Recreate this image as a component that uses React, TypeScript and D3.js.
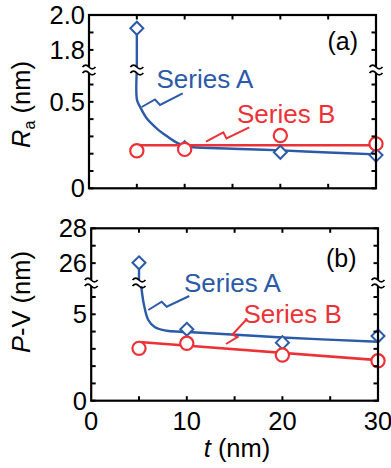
import React from "react";
import * as d3 from "d3";

// ---------- data ----------
const tValues = [5, 10, 20, 30];
const raSeriesA = [1.924, 0.235, 0.208, 0.192];
const raSeriesB = [0.217, 0.225, 0.305, 0.257];
const pvSeriesA = [26.02, 4.13, 3.36, 3.74];
const pvSeriesB = [3.03, 3.32, 2.64, 2.31];

// fitted curves
const raFitAT = [5, 5.02, 5.33, 6.03, 7.07, 8.12, 9.16, 10.03, 10.9, 15, 20, 25, 30];
const raFitAV = [0.684, 0.51, 0.472, 0.405, 0.347, 0.302, 0.264, 0.245, 0.237, 0.229, 0.219, 0.207, 0.196];
const raFitBT = [5, 30];
const raFitBV = [0.249, 0.249];
const pvFitAT = [5.2, 5.5, 5.97, 6.67, 7.89, 9.28, 11, 20, 30];
const pvFitAV = [6.81, 5.6, 4.67, 4.25, 4.05, 3.99, 3.95, 3.66, 3.41];
const pvFitBT = [5, 30];
const pvFitBV = [3.4, 2.35];

const xDomain = [0, 30];
const xTicks = [0, 5, 10, 15, 20, 25, 30];
const xTickLabels = [0, 10, 20, 30];

const raLowerDomain = [0, 0.684];
const raUpperDomain = [1.685, 2.0];
const raLowerTicks = [0, 0.1, 0.2, 0.3, 0.4, 0.5, 0.6];
const raUpperTicks = [1.8, 1.9, 2.0];
const raLowerLabels = [0, 0.5];
const raUpperLabels = [1.8, 2.0];

const pvLowerDomain = [0, 6.81];
const pvUpperDomain = [24.86, 28];
const pvLowerTicks = [0, 1, 2, 3, 4, 5, 6];
const pvUpperTicks = [26, 27, 28];
const pvLowerLabels = [0, 5];
const pvUpperLabels = [26, 28];

const seriesNames = ["Series A", "Series B"];

// ---------- style ----------
const BLUE = "#2b5aa8";
const RED = "#ec3237";
const FONT = "'Liberation Sans', Arial, Helvetica, sans-serif";
const FS = 25.5;

type Pt = [number, number];

interface PanelProps {
  left: number; right: number; top: number; bottom: number; breakY: number;
  lowerDomain: number[]; upperDomain: number[];
  lowerTicks: number[]; upperTicks: number[];
  lowerLabels: number[]; upperLabels: number[];
  fmt: (v: number) => string;
  seriesA: number[]; seriesB: number[];
  fitAT: number[]; fitAV: number[]; fitBT: number[]; fitBV: number[];
  labelA: [number, number]; labelB: [number, number];
  leaderA: Pt[]; leaderB: Pt[];
  tag: string; tagPos: [number, number];
  showXLabels: boolean;
  labelEnd: number;
}

function BreakMark({ x, y, color = "#000" }: { x: number; y: number; color?: string }) {
  const d = (yy: number) => `M${x - 6.5},${yy} Q${x - 3.25},${yy - 3.6} ${x},${yy} T${x + 6.5},${yy}`;
  return (
    <g>
      <rect x={x - 7} y={y - 3} width={14} height={6} fill="#fff" />
      <path d={d(y - 3)} fill="none" stroke={color} strokeWidth={1.8} />
      <path d={d(y + 3)} fill="none" stroke={color} strokeWidth={1.8} />
    </g>
  );
}

function Panel(p: PanelProps) {
  const x = d3.scaleLinear().domain(xDomain).range([p.left, p.right]);
  const yL = d3.scaleLinear().domain(p.lowerDomain).range([p.bottom, p.breakY]);
  const yU = d3.scaleLinear().domain(p.upperDomain).range([p.breakY, p.top]);
  const yAny = (v: number) => (v > p.lowerDomain[1] ? yU(v) : yL(v));

  const curve = d3.line<Pt>().x((d) => x(d[0])).y((d) => yL(d[1])).curve(d3.curveCatmullRom.alpha(0.5));
  const straight = d3.line<Pt>().x((d) => x(d[0])).y((d) => yL(d[1]));
  const fitA: Pt[] = p.fitAT.map((t, i) => [t, p.fitAV[i]]);
  const fitB: Pt[] = p.fitBT.map((t, i) => [t, p.fitBV[i]]);
  const pix = d3.line<Pt>();

  const tickLen = 4.5;
  const sw = 2.2;
  const diamond = (cx: number, cy: number, r = 6.5) =>
    `M${cx},${cy - r} L${cx + r},${cy} L${cx},${cy + r} L${cx - r},${cy} Z`;

  return (
    <g>
      {/* fit lines */}
      <line x1={x(tValues[0])} x2={x(tValues[0])} y1={yU(p.seriesA[0])} y2={p.breakY} stroke={BLUE} strokeWidth={2.4} />
      <path d={curve(fitA) || ""} fill="none" stroke={BLUE} strokeWidth={2.4} />
      <path d={straight(fitB) || ""} fill="none" stroke={RED} strokeWidth={2.6} />
      <BreakMark x={x(tValues[0])} y={p.breakY} />

      {/* markers */}
      {tValues.map((t, i) => (
        <path key={"a" + i} d={diamond(x(t), yAny(p.seriesA[i]))} fill="#fff" stroke={BLUE} strokeWidth={2} />
      ))}
      {tValues.map((t, i) => (
        <circle key={"b" + i} cx={x(t)} cy={yAny(p.seriesB[i])} r={6.6} fill="#fff" stroke={RED} strokeWidth={2.2} />
      ))}

      {/* frame */}
      <rect x={p.left} y={p.top} width={p.right - p.left} height={p.bottom - p.top} fill="none" stroke="#000" strokeWidth={sw} />
      {/* x ticks */}
      {xTicks.slice(1, -1).map((t) => (
        <g key={"xt" + t}>
          <line x1={x(t)} x2={x(t)} y1={p.bottom} y2={p.bottom - tickLen} stroke="#000" strokeWidth={2} />
          <line x1={x(t)} x2={x(t)} y1={p.top} y2={p.top + tickLen} stroke="#000" strokeWidth={2} />
        </g>
      ))}
      {/* y ticks */}
      {[...p.lowerTicks.map((v) => yL(v)), ...p.upperTicks.map((v) => yU(v))].map((yy, i) => (
        <g key={"yt" + i}>
          <line x1={p.left} x2={p.left + tickLen} y1={yy} y2={yy} stroke="#000" strokeWidth={2} />
          <line x1={p.right} x2={p.right - tickLen} y1={yy} y2={yy} stroke="#000" strokeWidth={2} />
        </g>
      ))}
      <BreakMark x={p.left} y={p.breakY} />
      <BreakMark x={p.right} y={p.breakY} />

      {/* y tick labels */}
      <g fontFamily={FONT} fontSize={FS} textAnchor="end" fill="#000">
        {p.lowerLabels.map((v) => (
          <text key={"ll" + v} x={p.labelEnd} y={yL(v) + 9}>{p.fmt(v)}</text>
        ))}
        {p.upperLabels.map((v) => (
          <text key={"ul" + v} x={p.labelEnd} y={yU(v) + 9}>{p.fmt(v)}</text>
        ))}
      </g>

      {/* x tick labels */}
      {p.showXLabels && (
        <g fontFamily={FONT} fontSize={FS} textAnchor="middle" fill="#000">
          {xTickLabels.map((t) => (
            <text key={"xl" + t} x={x(t)} y={p.bottom + 29.5}>{t}</text>
          ))}
        </g>
      )}

      {/* annotations */}
      <path d={pix(p.leaderA) || ""} fill="none" stroke={BLUE} strokeWidth={2} />
      <path d={pix(p.leaderB) || ""} fill="none" stroke={RED} strokeWidth={2} />
      <text x={p.labelA[0]} y={p.labelA[1]} fontFamily={FONT} fontSize={26} fill={BLUE}>{seriesNames[0]}</text>
      <text x={p.labelB[0]} y={p.labelB[1]} fontFamily={FONT} fontSize={26} fill={RED}>{seriesNames[1]}</text>
      <text x={p.tagPos[0]} y={p.tagPos[1]} fontFamily={FONT} fontSize={25} fill="#000">{p.tag}</text>
    </g>
  );
}

export default function App() {
  const fmtRa = (v: number) => (v === 0 ? "0" : v.toFixed(1));
  const fmtPv = (v: number) => String(v);
  return (
    <svg width={391} height={468} viewBox="0 0 391 468"
      style={{ position: "absolute", left: 0, top: 0, background: "#fff" }}>
      <rect width={391} height={468} fill="#fff" />
      <Panel
        left={89} right={376} top={15} bottom={188.3} breakY={70}
        lowerDomain={raLowerDomain} upperDomain={raUpperDomain}
        lowerTicks={raLowerTicks} upperTicks={raUpperTicks}
        lowerLabels={raLowerLabels} upperLabels={raUpperLabels}
        fmt={fmtRa}
        seriesA={raSeriesA} seriesB={raSeriesB}
        fitAT={raFitAT} fitAV={raFitAV} fitBT={raFitBT} fitBV={raFitBV}
        labelA={[156.5, 88]} labelB={[237, 123]}
        leaderA={[[141.7, 107], [155, 99.5], [160, 105], [182.7, 93.3]]}
        leaderB={[[206, 141.7], [223.3, 132.3], [226.5, 138.5], [249.3, 127.3]]}
        tag="(a)" tagPos={[327.5, 49.5]}
        showXLabels={false}
        labelEnd={85}
      />
      <Panel
        left={91.2} right={378} top={228.3} bottom={400.7} breakY={283}
        lowerDomain={pvLowerDomain} upperDomain={pvUpperDomain}
        lowerTicks={pvLowerTicks} upperTicks={pvUpperTicks}
        lowerLabels={pvLowerLabels} upperLabels={pvUpperLabels}
        fmt={fmtPv}
        seriesA={pvSeriesA} seriesB={pvSeriesB}
        fitAT={pvFitAT} fitAV={pvFitAV} fitBT={pvFitBT} fitBV={pvFitBV}
        labelA={[184, 292]} labelB={[243.5, 323]}
        leaderA={[[148.3, 310], [161.7, 301.7], [166.7, 306.7], [189.3, 296]]}
        leaderB={[[246, 320], [232.5, 334.5], [237.5, 337], [226, 344]]}
        tag="(b)" tagPos={[326, 266.5]}
        showXLabels={true}
        labelEnd={87}
      />
      {/* axis titles */}
      <text transform="translate(30,104.5) rotate(-90)" textAnchor="middle" fontFamily={FONT} fontSize={FS} fill="#000">
        <tspan fontStyle="italic">R</tspan>
        <tspan fontSize={16} dy={5}>a</tspan>
        <tspan dy={-5}> (nm)</tspan>
      </text>
      <text transform="translate(30,302) rotate(-90)" textAnchor="middle" fontFamily={FONT} fontSize={FS} fill="#000">
        <tspan fontStyle="italic">P</tspan>
        <tspan>-V (nm)</tspan>
      </text>
      <text x={237} y={456.5} textAnchor="middle" fontFamily={FONT} fontSize={FS} fill="#000">
        <tspan fontStyle="italic">t</tspan>
        <tspan> (nm)</tspan>
      </text>
    </svg>
  );
}
